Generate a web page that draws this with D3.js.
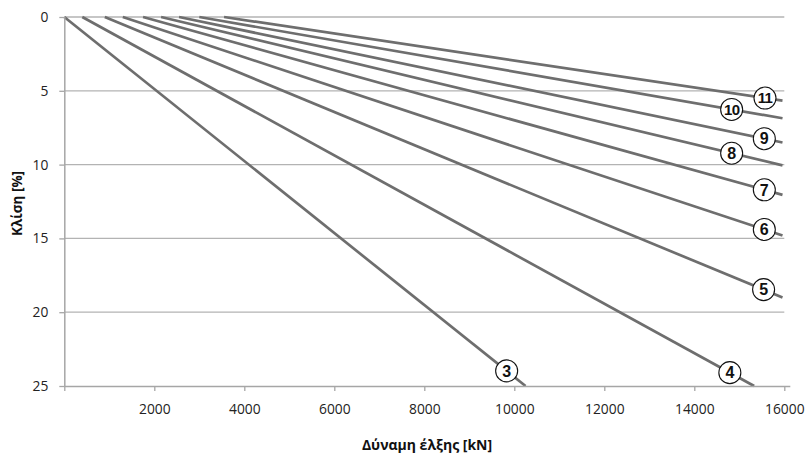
<!DOCTYPE html>
<html>
<head>
<meta charset="utf-8">
<script src="https://cdn.jsdelivr.net/npm/d3@7"></script>
<style>
  html, body { margin: 0; padding: 0; background: #ffffff; }
  svg { display: block; }
</style>
</head>
<body>
<svg id="chart" width="809" height="456"></svg>
<script>
// ---- data ----
const lineIds     = ["3", "4", "5", "6", "7", "8", "9", "10", "11"];
const startForce  = [0, 400, 900, 1300, 1750, 2150, 2550, 3000, 3550];       // kN at 0 %
const endForce    = [10250, 15330, 15960, 15960, 15960, 15960, 15960, 15960, 15960];
const endGrade    = [25, 25, 19.0, 14.8, 12.05, 10.05, 8.5, 6.86, 5.67];       // %
const labelForce  = [9830, 14790, 15540, 15556, 15556, 14830, 15556, 14830, 15571];
const xTicks = [0, 2000, 4000, 6000, 8000, 10000, 12000, 14000, 16000];
const yTicks = [0, 5, 10, 15, 20, 25];
const xTitle = "Δύναμη έλξης [kN]";
const yTitle = "Κλίση [%]";

// ---- layout ----
const svg = d3.select("#chart");
const x = d3.scaleLinear().domain([0, 16000]).range([64.3, 784.3]);
const y = d3.scaleLinear().domain([0, 25]).range([17, 386]);

const gridColor = "#b3b3b3";
const axisColor = "#a6a6a6";
const lineColor = "#6e6e6e";
const tickFont = "'Open Sans', sans-serif";

// gridlines
svg.append("g")
  .selectAll("line")
  .data(yTicks.filter(d => d < 25))
  .join("line")
  .attr("x1", x(0)).attr("x2", x(16000))
  .attr("y1", d => y(d)).attr("y2", d => y(d))
  .attr("stroke", gridColor).attr("stroke-width", 1.3);

// series lines
const series = lineIds.map((id, i) => ({
  id,
  pts: [[startForce[i], 0], [endForce[i], endGrade[i]]],
  labelF: labelForce[i]
}));
const lineGen = d3.line().x(d => x(d[0])).y(d => y(d[1]));
svg.append("g")
  .selectAll("path")
  .data(series)
  .join("path")
  .attr("d", d => lineGen(d.pts))
  .attr("fill", "none")
  .attr("stroke", lineColor)
  .attr("stroke-width", 2.7);

// axes
const xAxis = d3.axisBottom(x).tickValues(xTicks).tickSize(5)
  .tickFormat(d => d === 0 ? "" : String(d));
const gx = svg.append("g").attr("transform", `translate(0,${y(25)})`).call(xAxis);
gx.select(".domain").attr("stroke", axisColor).attr("stroke-width", 1.5)
  .attr("d", `M${x(0)},0.5H${x(16000) + 6}`);
gx.selectAll(".tick line").attr("stroke", axisColor).attr("stroke-width", 1.3);
gx.selectAll(".tick text").attr("font-family", tickFont).attr("font-size", 13.8)
  .attr("fill", "#222").attr("dy", "0.71em").attr("y", 18);

const yAxis = d3.axisLeft(y).tickValues(yTicks).tickSize(5).tickFormat(d => String(d));
const gy = svg.append("g").attr("transform", `translate(${x(0)},0)`).call(yAxis);
gy.select(".domain").attr("stroke", axisColor).attr("stroke-width", 1.5)
  .attr("d", `M0.5,${y(0)}V${y(25)}`);
gy.selectAll(".tick line").attr("stroke", axisColor).attr("stroke-width", 1.3);
gy.selectAll(".tick text").attr("font-family", tickFont).attr("font-size", 13.8)
  .attr("fill", "#222").attr("x", -16);

// axis titles
svg.append("text")
  .attr("x", 427).attr("y", 450)
  .attr("text-anchor", "middle")
  .attr("font-family", tickFont).attr("font-weight", "bold").attr("font-size", 14)
  .attr("fill", "#111")
  .text(xTitle);
svg.append("text")
  .attr("transform", `translate(22,${(y(0) + y(25)) / 2 + 2}) rotate(-90)`)
  .attr("text-anchor", "middle")
  .attr("font-family", tickFont).attr("font-weight", "bold").attr("font-size", 13.5)
  .attr("fill", "#111")
  .text(yTitle);

// circle labels, placed on their line
const labels = svg.append("g")
  .selectAll("g")
  .data(series)
  .join("g")
  .attr("transform", d => {
    const [p0, p1] = d.pts;
    const t = (d.labelF - p0[0]) / (p1[0] - p0[0]);
    const g = p0[1] + t * (p1[1] - p0[1]);
    return `translate(${x(d.labelF)},${y(g)})`;
  });
labels.append("circle")
  .attr("r", 11)
  .attr("fill", "#fff")
  .attr("stroke", "#111")
  .attr("stroke-width", 1.1);
labels.append("text")
  .attr("text-anchor", "middle")
  .attr("dy", "0.36em")
  .attr("font-family", "'Liberation Sans', Arial, sans-serif")
  .attr("font-weight", "bold")
  .attr("font-size", d => d.id.length > 1 ? 15 : 16)
  .attr("letter-spacing", d => d.id.length > 1 ? -0.8 : 0)
  .attr("fill", "#111")
  .text(d => d.id);
</script>
</body>
</html>
